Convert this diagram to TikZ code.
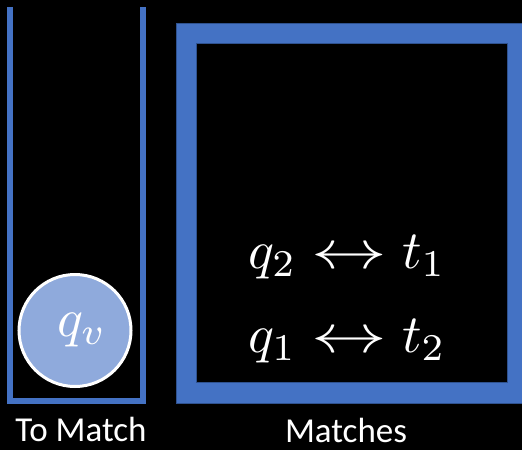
\documentclass[tikz,border=0pt]{standalone}
\usepackage{graphicx}
\usepackage{fontspec}
\setmainfont{Carlito}
\definecolor{frameblue}{HTML}{4472C4}
\definecolor{frameedge}{HTML}{2F528F}
\definecolor{circfill}{HTML}{8FAADC}
\newcommand{\bigmath}[1]{\scalebox{5.4}{\fontsize{10}{12}\selectfont$#1$}}
\newcommand{\pairarrow}{\mathrel{\scalebox{1.4}[1]{$\leftrightarrow$}}}
\tikzset{
  container/.style={draw=frameblue, line width=5.5pt, line join=miter},
  matchframe/.style={fill=frameblue, draw=frameedge, line width=1pt, even odd rule},
  token/.style={circle, fill=circfill, draw=white, line width=3pt, minimum size=112pt, inner sep=0pt, text=white},
  pairtext/.style={text=white, inner sep=0pt, anchor=base},
  caption/.style={text=white, inner sep=0pt, anchor=base, font=\fontsize{35}{40}\selectfont}
}
\begin{document}
\begin{tikzpicture}[x=1pt,y=-1pt]
\useasboundingbox (0,0) rectangle (522,450);
\fill[black] (0,0) rectangle (522,450);
\begin{scope}
\clip (0,0) rectangle (522,450);
% left container
\draw[container] (10,7) -- (10,401) -- (143,401) -- (143,7);
% matches frame
\path[matchframe] (176,23) rectangle (528,403) (196,43) rectangle (507,382);
\end{scope}
\node[token] (qv) at (75,330.5) {\raisebox{-19pt}{\hspace{14pt}\bigmath{q_v}}};
\node[pairtext] (m1) at (347,268) {\bigmath{q_2 \pairarrow t_1}};
\node[pairtext] (m2) at (347,352) {\bigmath{q_1 \pairarrow t_2}};
\node[caption] (l1) at (81,441) {To Match};
\node[caption] (l2) at (346,442) {Matches};
\end{tikzpicture}
\end{document}
